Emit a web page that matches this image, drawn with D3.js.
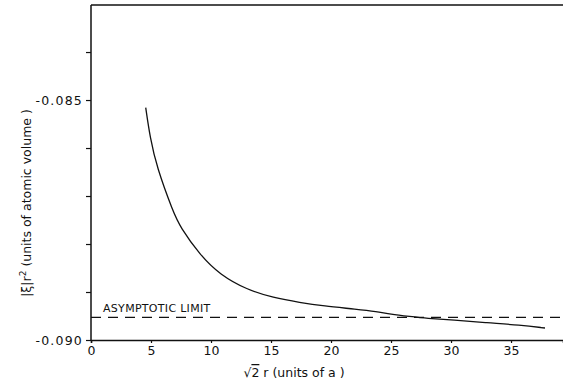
<!DOCTYPE html>
<html><head><meta charset="utf-8">
<script src="https://cdn.jsdelivr.net/npm/d3@7"></script>
<style>
body{margin:0;background:#fff;}
text{font-family:"DejaVu Sans",sans-serif;fill:#111;}
</style></head>
<body><svg id="c" width="563" height="381"></svg>
<script>
const xVals = [4.56,4.92,5.48,6.86,7.42,9.08,10.75,12.98,15.19,17.42,19.36,22.14,23.81,24.92,26.58,27.98,30.19,32.98,35.75,37.83];
const yVals = [-0.08516,-0.08578,-0.08640,-0.08734,-0.08764,-0.08823,-0.08864,-0.08895,-0.08912,-0.08922,-0.08929,-0.08936,-0.08941,-0.08946,-0.08951,-0.08955,-0.08958,-0.08964,-0.08969,-0.08975];
const asymptote = -0.08953;
const xTicks = [0,5,10,15,20,25,30,35];
const yMajor = [-0.090,-0.085];
const yMajorLabels = ["-0.090","-0.085"];
const yMinor = [-0.089,-0.088,-0.087,-0.086,-0.084];

const svg = d3.select("#c");
const m = {l:91,t:5,r:0,b:41};
const W = 563, H = 381;
const x = d3.scaleLinear().domain([0,39.33]).range([m.l, W-m.r]);
const y = d3.scaleLinear().domain([-0.090,-0.08302]).range([H-m.b, m.t]);

// frame: left, top
svg.append("line").attr("x1",x(0)).attr("x2",x(0)).attr("y1",y.range()[0]).attr("y2",y.range()[1]).attr("stroke","#111").attr("stroke-width",1.5);
svg.append("line").attr("x1",x(0)).attr("x2",x.range()[1]).attr("y1",y.range()[1]).attr("y2",y.range()[1]).attr("stroke","#111").attr("stroke-width",1.5);

// x axis
const xAxis = d3.axisBottom(x).tickValues(xTicks).tickSize(3).tickPadding(3).tickFormat(d3.format("d"));
const gx = svg.append("g").attr("transform",`translate(0,${y(-0.090)})`).call(xAxis);
gx.select(".domain").attr("stroke","#111").attr("stroke-width",1.5);
gx.selectAll(".tick line").attr("stroke","#111").attr("stroke-width",1.2);
gx.selectAll("text").attr("font-size",12.5).attr("font-family","DejaVu Sans").attr("fill","#111");

// y axis major
const yAxis = d3.axisLeft(y).tickValues(yMajor).tickSize(5).tickPadding(3).tickFormat((d,i)=>yMajorLabels[i]);
const gy = svg.append("g").attr("transform",`translate(${x(0)},0)`).call(yAxis);
gy.select(".domain").remove();
gy.selectAll(".tick line").attr("stroke","#111").attr("stroke-width",1.2);
gy.selectAll("text").attr("font-size",12.5).attr("letter-spacing",1.2).attr("font-family","DejaVu Sans").attr("fill","#111");
const gym = svg.append("g").attr("transform",`translate(${x(0)},0)`).call(d3.axisLeft(y).tickValues(yMinor).tickSize(5).tickFormat(""));
gym.select(".domain").remove();
gym.selectAll(".tick line").attr("stroke","#111").attr("stroke-width",1.2);

// asymptote
svg.append("line").attr("x1",x(0)).attr("x2",x.range()[1]).attr("y1",y(asymptote)).attr("y2",y(asymptote))
  .attr("stroke","#111").attr("stroke-width",1.2).attr("stroke-dasharray","10,7");
svg.append("text").attr("x",x(1)).attr("y",y(asymptote)-5).attr("font-size",11).attr("letter-spacing",0.3).text("ASYMPTOTIC LIMIT");

// curve
const data = xVals.map((v,i)=>[v,yVals[i]]);
svg.append("path").datum(data).attr("fill","none").attr("stroke","#111").attr("stroke-width",1.3)
  .attr("d", d3.line().x(d=>x(d[0])).y(d=>y(d[1])).curve(d3.curveBasis));

// axis titles
const xt = svg.append("text").attr("x",294).attr("y",377).attr("text-anchor","middle").attr("font-size",12.5);
xt.append("tspan").text("√");
xt.append("tspan").attr("text-decoration","overline").text("2");
xt.append("tspan").text(" r (units of a )");

const yt = svg.append("text").attr("transform","translate(31,203) rotate(-90)").attr("text-anchor","middle").attr("font-size",12.5);
yt.append("tspan").text("|ξ|r");
yt.append("tspan").attr("baseline-shift","super").attr("font-size",9).text("2");
yt.append("tspan").text(" (units of atomic volume )");
</script></body></html>
